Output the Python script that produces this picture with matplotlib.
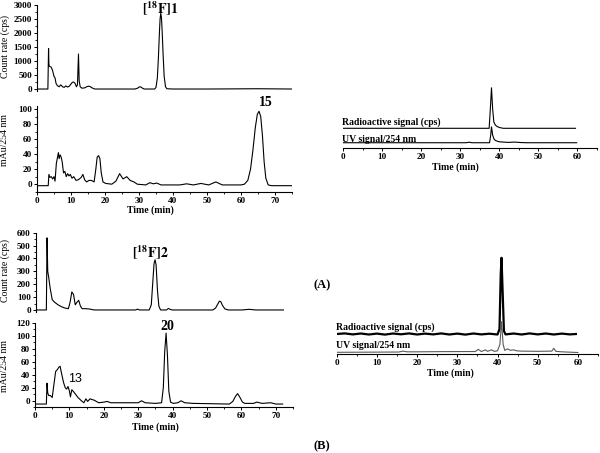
import matplotlib
matplotlib.use('Agg')  # no GUI window
import matplotlib.pyplot as plt
from matplotlib.ticker import MultipleLocator

plt.rcParams['font.family'] = ['Liberation Serif', 'DejaVu Serif']
plt.rcParams['mathtext.fontset'] = 'stix'

# --- panel A, left: radio trace of [18F]1 (count rate, cps)
a_rad_t = [0, 3.2, 3.4, 3.5, 3.6, 3.8, 4.2, 4.6, 5.0, 5.3, 5.6, 6.0, 6.5, 7.0, 7.5, 8.0, 8.5, 9.0, 9.5,
           10.0, 10.4, 10.8, 11.2, 11.6, 11.9, 12.2, 12.4, 12.7, 13.2, 14.0, 14.6, 15.1, 15.6, 16.2, 17,
           28.8, 29.6, 30.0, 30.4, 30.9, 31.5, 34.6, 35.0, 35.4, 35.7, 36.0, 36.2, 36.4, 36.6, 36.8, 37.1,
           37.4, 37.8, 38.2, 40, 50, 65, 75]
a_rad_v = [0, 0, 1450, 900, 820, 800, 780, 650, 450, 400, 200, 120, 80, 150, 80, 60, 110, 70, 100,
           180, 240, 250, 200, 80, 150, 1250, 300, 80, 30, 40, 80, 100, 90, 40, 0,
           0, 30, 70, 80, 40, 0, 0, 60, 400, 1100, 2000, 2500, 2700, 2550, 2100, 1200,
           450, 80, 10, 0, 0, 10, 0]

# --- panel A, left: UV trace (mAu/254 nm), peak 15
a_uv_t = [0, 3.3, 3.5, 3.8, 4.2, 4.6, 5.0, 5.3, 5.7, 6.0, 6.3, 6.5, 6.8, 7.1, 7.4, 7.8, 8.2, 8.6, 9.0, 9.4,
          9.8, 10.3, 10.8, 11.5, 12.2, 13.0, 13.5, 14.0, 14.6, 15.3, 16.0, 16.8, 17.3, 17.7, 18.1, 18.5,
          18.9, 19.4, 20.2, 22, 23.2, 24.3, 25.3, 26.4, 27.4, 28.5, 29.5, 32, 33.2, 34.2, 35.2, 36.5, 42, 44,
          46, 48.2, 50.5, 52.6, 54.5, 60, 61, 62, 62.8, 63.5, 64.2, 64.8, 65.3, 65.8, 66.3, 66.8, 67.3, 68,
          69, 75]
a_uv_v = [-2, -2, 13, 9, 10, 7, 10, 4, 28, 35, 42, 34, 39, 36, 30, 15, 17, 10, 14, 11,
          13, 8, 10, 5, 6, 9, 13, 6, 3, 5, 5, 3, 20, 36, 38, 34,
          15, 3, 1, 0, 4, 14, 7, 10, 5, 3, 0, -1, 2, 0.5, 1.5, -1, -1, 0.5,
          -1, 1, -1, 3, -1, -1, 0, 5, 20, 45, 75, 93, 97, 90, 65, 30, 8, -1,
          -2, -2]

# --- panel B, left: radio trace of [18F]2
b_rad_t = [0, 3.1, 3.3, 3.5, 3.8, 4.2, 4.8, 5.5, 6.5, 7.5, 8.5, 9.5, 10.0, 10.5, 11.0, 11.5, 12.0, 12.5,
           13.0, 13.5, 14.5, 15.5, 17, 29, 29.6, 30.2, 33.0, 33.6, 34.0, 34.4, 34.7, 35.0, 35.4, 35.8, 36.3,
           38, 38.6, 39.3, 40, 51.5, 52.3, 52.9, 53.4, 53.8, 54.3, 55, 56, 60, 62, 64, 72]
b_rad_v = [0, 0, 560, 300, 250, 170, 80, 60, 40, 25, 15, 10, 60, 140, 120, 40, 60, 75,
           30, 10, 10, 8, 0, 0, 6, 0, 0, 40, 200, 360, 390, 350, 150, 30, 0,
           0, 12, 2, 0, 0, 15, 45, 68, 65, 35, 8, 0, 0, 5, 0, 0]

# --- panel B, left: UV trace, peaks 13 and 20
b_uv_t = [0, 3.3, 3.5, 3.7, 4.0, 4.5, 5.0, 5.5, 6.0, 6.5, 7.0, 7.3, 7.8, 8.3, 8.8, 9.2, 9.6, 10.0, 10.3,
          10.7, 11.2, 11.8, 12.5, 13.5, 14.2, 14.8, 15.3, 16.0, 16.5, 17.2, 18.5, 20, 21, 22, 30, 31, 32,
          35, 36.8, 37.3, 37.7, 38.1, 38.5, 38.9, 39.4, 40.2, 41.5, 42.5, 43.5, 46, 56.5, 57.5, 58.3,
          58.9, 59.5, 60.3, 61, 63.5, 64.5, 66, 68.5, 70, 72]
b_uv_v = [-5, -5, 27, 12, 8, 8, 5, 25, 45, 48, 52, 53, 40, 28, 20, 18, 22, 15, 6,
          17, 14, 10, 5, 0, -3, 3, -1, 3, 2, 1, -3, -2, -1, -3, -3, 0, -3,
          -4, -3, 20, 75, 104, 70, 15, -2, -4, -3, 0, -3, -4, -5, -1, 7,
          11, 6, -2, -4, -4, -2, -4, -3, -5, -5]

# --- panel A, right: co-injection (relative heights)
ar_rad_t = [0, 37.4, 37.7, 38.0, 38.3, 38.6, 39.0, 39.5, 40.2, 41, 59.5]
ar_rad_v = [0, 0, 30, 64, 30, 10, 5, 2.5, 1, 0, 0]
ar_uv_t = [0, 31.5, 32.3, 33, 37.5, 37.8, 38.0, 38.3, 38.7, 39.2, 40, 41, 42.5, 43.5, 44.5, 45.5, 47, 59.8]
ar_uv_v = [0, 0, 0.8, 0, 0, 12, 25, 12, 5, 3, 1.5, 1, 0.5, 1, 0.8, 0.3, 0, 0]

# --- panel B, right: co-injection (relative heights)
br_rad_t = [0, 2, 4, 6, 8, 10, 12, 14, 16, 18, 20, 22, 24, 26, 28, 30, 32, 34, 36, 38, 40, 40.5,
            40.8, 41.0, 41.3, 41.6, 42, 44, 46, 48, 50, 52, 54, 56, 58, 59.5]
br_rad_v = [0, 0.6, -0.4, 0.5, -0.5, 0.4, -0.6, 0.5, -0.3, 0.6, -0.5, 0.4, -0.4, 0.6, -0.5, 0.4,
            -0.6, 0.5, -0.4, 0.3, -0.5, 5, 60, 77, 40, 3, -0.4, 0.5, -0.5, 0.6, -0.4, 0.5, -0.5, 0.4, -0.4, 0]
br_uv_t = [0, 15.5, 16.5, 17.5, 20, 26, 34.5, 35.2, 36, 37, 37.5, 38.5, 39.2, 40, 40.6, 41.0, 41.4,
           41.8, 42.5, 43.2, 44, 44.8, 46, 50, 53.5, 54.0, 54.5, 56, 60]
br_uv_v = [0, 0.3, 1.2, 0.5, 0.5, 0.7, 0.8, 3, 0.8, 2.5, 1, 2.5, 1, 1.5, 8, 31, 8,
           2, 3.5, 2, 2.5, 1.5, 1.2, 1, 1.2, 4, 1, 0.5, -0.2]

# stacking offsets for the right-hand overlays
ar_rad_off, ar_uv_off = 31.6, 8.8
br_rad_off, br_uv_off = 20.2, 1.7

W, H = 600, 453
fig = plt.figure(figsize=(6, 4.53), dpi=100)


def px_rect(x0, y_top, x1, y_bot):
    return [x0 / W, 1 - y_bot / H, (x1 - x0) / W, (y_bot - y_top) / H]


def style(ax, bottom=True):
    for s in ['top', 'right']:
        ax.spines[s].set_visible(False)
    ax.spines['bottom'].set_visible(bottom)
    for s in ax.spines.values():
        s.set_linewidth(0.8)
    ax.tick_params(labelsize=6.6, width=0.7, length=2.5, pad=1)
    ax.tick_params(which='minor', width=0.6, length=1.5)
    for lab in ax.get_xticklabels() + ax.get_yticklabels():
        lab.set_fontweight('bold')


def ftext(x, y, s, **kw):
    fig.text(x / W, 1 - y / H, s, **kw)


lw = 0.8

# A left, top
ax = fig.add_axes(px_rect(37, 5, 292, 90.7))
ax.plot(a_rad_t, a_rad_v, color='black', lw=lw)
ax.set_xlim(0, 75)
ax.set_ylim(-60, 3000)
ax.set_yticks(range(0, 3001, 500))
ax.yaxis.set_minor_locator(MultipleLocator(250))
ax.set_xticks([])
style(ax, bottom=False)

# A left, bottom
ax = fig.add_axes(px_rect(37, 106, 292, 191.7))
ax.plot(a_uv_t, a_uv_v, color='black', lw=lw)
ax.set_xlim(0, 75)
ax.set_ylim(-10, 104)
ax.set_yticks(range(0, 101, 20))
ax.yaxis.set_minor_locator(MultipleLocator(10))
ax.set_xticks(range(0, 71, 10))
ax.xaxis.set_minor_locator(MultipleLocator(5))
style(ax)

# B left, top
ax = fig.add_axes(px_rect(35.7, 232.7, 293.7, 311.9))
ax.plot(b_rad_t, b_rad_v, color='black', lw=lw)
ax.set_xlim(0, 75)
ax.set_ylim(-15, 600)
ax.set_yticks(range(0, 601, 100))
ax.yaxis.set_minor_locator(MultipleLocator(50))
ax.set_xticks([])
style(ax, bottom=False)

# B left, bottom
ax = fig.add_axes(px_rect(35, 322.7, 293, 407.3))
ax.plot(b_uv_t, b_uv_v, color='black', lw=lw)
ax.set_xlim(0, 75)
ax.set_ylim(-10, 120)
ax.set_yticks(range(0, 121, 20))
ax.yaxis.set_minor_locator(MultipleLocator(10))
ax.set_xticks(range(0, 71, 10))
ax.xaxis.set_minor_locator(MultipleLocator(5))
style(ax)

# A right
ax = fig.add_axes(px_rect(343, 85, 597, 148.3))
ax.plot(ar_rad_t, [v + ar_rad_off for v in ar_rad_v], color='black', lw=lw)
ax.plot(ar_uv_t, [v + ar_uv_off for v in ar_uv_v], color='black', lw=lw)
ax.set_xlim(0, 65)
ax.set_ylim(0, 100)
ax.set_xticks(range(0, 61, 10))
ax.xaxis.set_minor_locator(MultipleLocator(5))
ax.set_yticks([])
ax.spines['left'].set_visible(False)
style(ax)

# B right
ax = fig.add_axes(px_rect(336.7, 255, 598, 354))
ax.plot(br_rad_t, [v + br_rad_off for v in br_rad_v], color='black', lw=1.6)
ax.plot(br_uv_t, [v + br_uv_off for v in br_uv_v], color='0.35', lw=lw)
ax.set_xlim(0, 65)
ax.set_ylim(0, 100)
ax.set_xticks(range(0, 61, 10))
ax.xaxis.set_minor_locator(MultipleLocator(5))
ax.set_yticks([])
ax.spines['left'].set_visible(False)
style(ax)

# axis titles
ftext(5, 47, 'Count rate (cps)', rotation=90, ha='center', va='center', fontsize=7)
ftext(5, 140, 'mAu/254 nm', rotation=90, ha='center', va='center', fontsize=7)
ftext(5, 271, 'Count rate (cps)', rotation=90, ha='center', va='center', fontsize=7)
ftext(5, 366, 'mAu/254 nm', rotation=90, ha='center', va='center', fontsize=7)
ftext(150, 210, 'Time (min)', ha='center', va='center', fontsize=7, fontweight='bold')
ftext(155, 427, 'Time (min)', ha='center', va='center', fontsize=7, fontweight='bold')
ftext(455, 167, 'Time (min)', ha='center', va='center', fontsize=7, fontweight='bold')
ftext(450, 373, 'Time (min)', ha='center', va='center', fontsize=7, fontweight='bold')

# peak labels
ftext(160, 9, r'$\mathbf{[^{18}F]1}$', ha='center', va='center', fontsize=10)
ftext(266, 103, '15', ha='center', va='center', fontsize=10, fontweight='bold')
ftext(150, 253, r'$\mathbf{[^{18}F]2}$', ha='center', va='center', fontsize=10)
ftext(167, 327, '20', ha='center', va='center', fontsize=10, fontweight='bold')
ftext(75, 379, '13', ha='center', va='center', fontsize=9, family=['Liberation Sans', 'DejaVu Sans'])

# overlay captions
ftext(342, 122, 'Radioactive signal (cps)', ha='left', va='center', fontsize=7, fontweight='bold')
ftext(342, 139, 'UV signal/254 nm', ha='left', va='center', fontsize=7, fontweight='bold')
ftext(336, 327, 'Radioactive signal (cps)', ha='left', va='center', fontsize=7, fontweight='bold')
ftext(336, 345, 'UV signal/254 nm', ha='left', va='center', fontsize=7, fontweight='bold')

# panel letters
ftext(322, 285, '(A)', ha='center', va='center', fontsize=9, fontweight='bold')
ftext(322, 446, '(B)', ha='center', va='center', fontsize=9, fontweight='bold')

fig.savefig('out.png', dpi=100)
